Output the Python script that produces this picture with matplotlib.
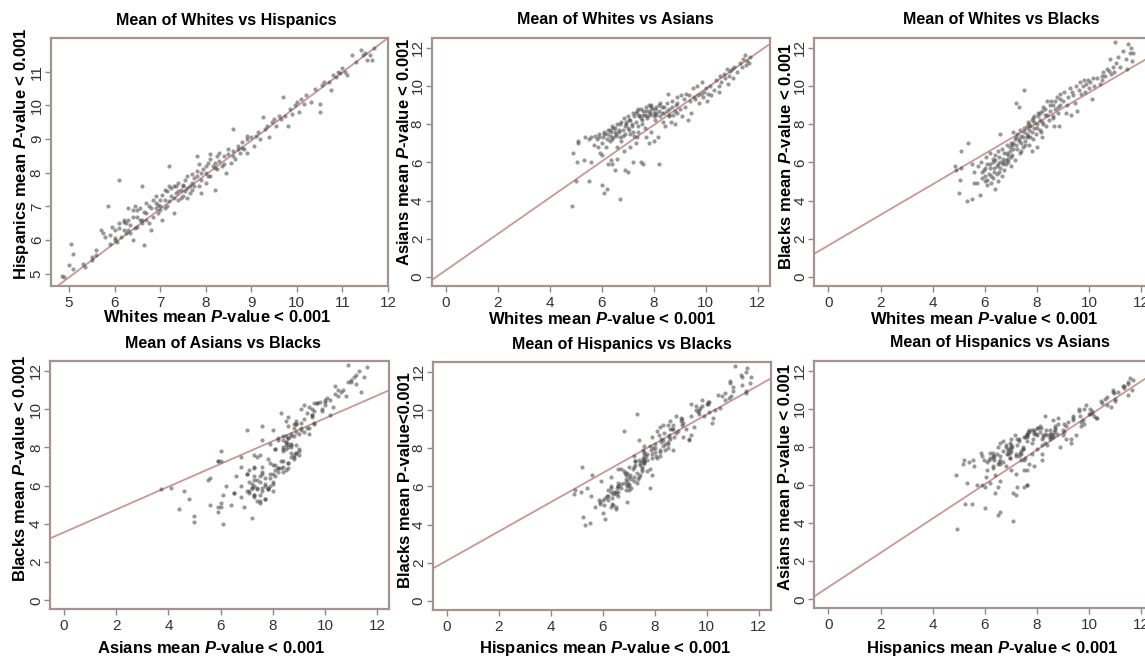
import numpy as np
import matplotlib
matplotlib.use('Agg')
import matplotlib.pyplot as plt

plt.rcParams['font.family'] = 'Liberation Sans'
plt.rcParams['mathtext.fontset'] = 'custom'
plt.rcParams['mathtext.it'] = 'Liberation Sans:bold:italic'
plt.rcParams['mathtext.rm'] = 'Liberation Sans:bold'

# mean expression per probe, by group
whites = [4.85, 4.9, 5.0, 5.05, 5.1, 5.1, 5.3, 5.35, 5.5, 5.5, 5.6, 5.6,
          5.7, 5.75, 5.8, 5.85, 5.9, 5.95, 6.0, 6.0, 6.05, 6.1, 6.1, 6.15, 6.2, 6.2, 6.25, 6.3, 6.3, 6.35,
          6.4, 6.4, 6.45, 6.5, 6.5, 6.55, 6.6, 6.6, 6.65, 6.7, 6.7, 6.75, 6.8, 6.85, 6.9, 6.9, 6.95, 7.0, 7.0,
          7.05, 7.1, 7.1, 7.15, 7.2, 7.2, 7.25, 7.3, 7.3, 7.35, 7.4, 7.4, 7.45, 7.5, 7.5, 7.55, 7.6, 7.6, 7.65,
          7.7, 7.7, 7.75, 7.8, 7.8, 7.85, 7.9, 7.9, 7.95, 8.0, 8.0, 8.05, 8.1, 8.1, 8.15, 8.2, 8.2, 8.25, 8.3,
          8.35, 8.4, 8.45, 8.5, 8.55, 8.6, 8.6, 8.65, 8.7, 8.75, 8.8, 8.85, 8.9, 8.9, 9.0,
          9.05, 9.1, 9.15, 9.2, 9.25, 9.3, 9.35, 9.4, 9.45, 9.5, 9.55, 9.6, 9.65, 9.7, 9.75, 9.8, 9.85, 9.9, 9.95,
          10.0, 10.05, 10.1, 10.15, 10.2, 10.3, 10.4, 10.5, 10.5, 10.55, 10.6, 10.7, 10.75, 10.8, 10.85, 10.9, 10.95,
          11.0, 11.05, 11.1, 11.2, 11.3, 11.4, 11.45, 11.5, 11.55, 11.6, 11.65, 11.7,
          5.9, 6.0, 6.1, 6.2, 6.25, 6.3, 6.35, 6.4, 6.45, 6.5, 6.55, 6.6, 6.65, 6.7, 6.75, 6.8, 6.85,
          6.9, 6.95, 7.0, 7.05, 7.1, 7.15, 7.2, 7.25, 7.3, 7.35, 7.4, 7.45, 7.5, 7.55, 7.6, 7.65,
          7.7, 7.75, 7.8, 7.85, 7.9, 8.0, 8.05, 8.1, 8.2, 8.25, 8.3, 8.4, 8.5, 8.6, 8.7, 8.8, 8.9]
hispanics = [4.95, 4.9, 5.25, 5.9, 5.15, 5.6, 5.3, 5.2, 5.5, 5.4, 5.55, 5.7,
             6.3, 6.2, 6.1, 7.0, 5.9, 6.4, 6.05, 6.0, 5.95, 7.8, 6.5, 6.1, 6.6, 6.3, 6.5, 6.3, 6.95, 6.2,
             6.7, 6.0, 7.0, 6.4, 6.9, 6.6, 7.6, 6.6, 5.85, 7.1, 6.8, 6.5, 6.3, 7.2, 6.95, 7.1, 6.8, 6.9, 7.2,
             6.6, 7.2, 7.5, 7.0, 8.2, 7.6, 7.3, 6.8, 7.6, 7.4, 7.7, 7.2, 7.5, 7.3, 7.6, 7.45, 7.9, 7.25, 7.6,
             7.7, 7.5, 7.85, 8.5, 7.9, 7.6, 8.0, 7.4, 8.1, 8.0, 7.7, 8.3, 7.9, 8.55, 8.2, 7.5, 8.3, 8.1, 8.6,
             8.2, 8.5, 8.0, 8.55, 8.3, 9.3, 8.65, 8.4, 8.8, 8.6, 8.9, 8.7, 9.0, 8.6, 9.05,
             8.8, 9.1, 9.2, 9.0, 9.65, 9.3, 9.4, 9.05, 9.5, 9.6, 9.4, 9.7, 9.6, 10.25, 9.7, 9.4, 9.9, 9.75, 10.0,
             10.1, 9.8, 10.2, 10.05, 10.3, 10.1, 10.5, 9.8, 10.05, 10.6, 10.7, 10.7, 10.45, 10.9, 10.85, 11.0, 10.95,
             11.1, 11.0, 10.9, 11.5, 11.3, 11.65, 11.5, 11.55, 11.35, 11.5, 11.35, 11.7,
             6.15, 6.3, 6.35, 6.55, 6.2, 6.6, 6.45, 6.9, 6.35, 6.7, 6.95, 6.5, 6.85, 6.6, 7.0, 6.95, 6.7,
             7.3, 7.05, 7.0, 7.35, 6.95, 7.45, 7.15, 7.55, 7.25, 7.6, 7.45, 7.25, 7.65, 7.8, 7.55, 7.4,
             7.95, 7.6, 8.05, 8.25, 7.8, 8.2, 7.9, 8.4, 8.15, 8.5, 8.35, 8.25, 8.7, 8.5, 8.7, 8.75, 9.1]
asians = [3.7, 6.5, 5.0, 6.0, 7.1, 7.0, 6.1, 7.3, 5.0, 7.2, 7.3, 6.0,
          6.9, 7.4, 7.2, 6.8, 7.5, 6.5, 6.4, 4.8, 7.3, 7.6, 4.4, 6.8, 4.6, 7.5, 5.9, 7.7, 7.4, 6.1,
          7.2, 5.9, 7.8, 5.6, 7.6, 7.5, 6.8, 6.2, 7.7, 4.1, 8.0, 7.1, 7.4, 6.6, 7.9, 5.6, 8.1, 7.8, 5.5,
          8.2, 7.5, 6.8, 8.0, 7.6, 6.0, 8.4, 7.0, 8.6, 7.3, 8.8, 7.6, 8.5, 8.3, 6.0, 8.0, 8.7, 5.9, 8.5,
          8.9, 7.3, 8.4, 8.7, 7.0, 8.6, 9.0, 7.6, 8.8, 8.6, 7.1, 8.2, 8.9, 8.5, 7.3, 5.9, 8.7, 9.1, 8.6,
          8.1, 8.9, 7.9, 8.7, 9.6, 8.4, 8.8, 8.1, 9.2, 8.5, 8.0, 9.0, 8.6, 9.4, 8.8,
          9.5, 8.4, 9.3, 8.9, 9.6, 8.2, 9.5, 9.2, 8.6, 9.9, 9.4, 9.3, 10.0, 9.5, 9.1, 9.6, 10.2, 9.4, 9.7,
          9.9, 9.2, 9.6, 10.0, 9.5, 9.8, 10.3, 10.0, 9.7, 10.5, 10.2, 10.6, 10.4, 10.9, 10.1, 10.5, 10.8,
          10.9, 10.4, 11.0, 10.7, 11.2, 11.0, 11.4, 11.6, 11.1, 11.3, 11.2, 11.5,
          7.3, 7.0, 7.5, 7.2, 7.7, 7.1, 7.6, 7.9, 7.3, 7.8, 7.4, 8.0, 7.6, 7.3, 8.1, 7.7, 8.3,
          7.5, 8.0, 8.4, 7.7, 8.2, 7.9, 8.6, 7.4, 8.1, 8.7, 7.9, 8.4, 8.8, 8.2, 8.5, 7.8,
          8.7, 8.3, 9.0, 8.5, 8.9, 8.4, 8.8, 8.6, 9.0, 8.4, 8.9, 8.6, 9.1, 8.5, 8.9, 8.7, 9.1]
blacks = [5.8, 5.6, 4.4, 5.1, 5.7, 6.6, 4.0, 7.0, 4.1, 5.9, 5.5, 4.9,
          4.9, 5.8, 4.3, 6.0, 5.2, 5.6, 5.0, 5.3, 6.3, 5.9, 4.8, 5.4, 5.7, 6.5, 4.9, 6.0, 5.2, 5.5,
          6.1, 4.6, 5.8, 5.0, 6.6, 5.5, 7.5, 6.0, 5.3, 5.9, 6.2, 5.6, 5.9, 6.5, 6.0, 6.4, 6.8, 5.8, 6.3,
          6.9, 7.6, 7.0, 6.1, 9.1, 7.3, 6.7, 8.9, 7.2, 6.5, 7.4, 7.0, 6.8, 9.8, 7.8, 7.1, 7.5, 7.3, 8.1,
          7.7, 6.9, 7.9, 8.2, 6.6, 7.2, 7.8, 8.4, 7.5, 8.0, 6.8, 8.4, 7.7, 8.6, 7.6, 7.3, 8.1, 8.9, 8.5,
          7.9, 9.2, 8.2, 8.7, 9.2, 8.4, 9.0, 7.9, 8.8, 9.4, 8.9, 7.9, 9.6, 9.0, 9.2,
          9.7, 8.6, 9.0, 9.4, 9.9, 8.5, 9.7, 9.5, 9.1, 10.0, 8.7, 9.8, 10.2, 9.6, 10.0, 10.3, 9.7, 10.1, 10.3,
          9.9, 10.2, 9.3, 10.4, 10.0, 10.4, 10.1, 10.5, 10.3, 10.7, 10.5, 10.9, 10.8, 11.4, 10.6, 11.0, 10.7,
          12.3, 11.2, 11.5, 11.0, 11.8, 11.4, 10.9, 12.2, 11.7, 12.0, 11.3, 11.7,
          5.5, 5.7, 5.1, 5.9, 5.3, 6.2, 5.7, 6.4, 5.4, 5.9, 6.3, 5.7, 6.7, 6.0, 6.5, 6.1, 6.9,
          6.2, 6.6, 7.0, 6.4, 6.7, 7.2, 6.9, 7.5, 7.1, 7.7, 6.6, 7.3, 7.6, 6.9, 7.9, 7.4,
          8.0, 7.3, 7.6, 8.3, 8.1, 7.8, 8.6, 8.2, 8.7, 8.0, 8.8, 8.5, 9.0, 8.3, 9.2, 8.6, 9.3]

groups = {'Whites': whites, 'Hispanics': hispanics, 'Asians': asians, 'Blacks': blacks}

# panels: (x group, y group), fitted line
pairs = [('Whites', 'Hispanics'), ('Whites', 'Asians'), ('Whites', 'Blacks'),
         ('Asians', 'Blacks'), ('Hispanics', 'Blacks'), ('Hispanics', 'Asians')]
fit_slope = [1.015, 0.95, 0.80, 0.596, 0.765, 0.90]
fit_intercept = [-0.18, 0.35, 1.65, 3.56, 2.11, 0.64]
italic_p_y = [True, True, True, True, False, False]

W, H = 1145, 657
fig = plt.figure(figsize=(W / 100, H / 100), dpi=100)

# axes boxes in pixels: left, top, right, bottom
boxes = [(50.7, 38, 388, 286), (431.7, 37.7, 770, 286), (814.3, 37.7, 1153.5, 286),
         (50, 361, 389.3, 609.3), (432.7, 361.7, 771, 610), (814.3, 360.7, 1153.5, 608.3)]
title_pos = [(226, 20), (615.5, 20), (1001.7, 20), (223, 344), (621.7, 345), (999.7, 343)]
xlab_pos = [(217, 317), (601.7, 319), (984, 319), (211, 648), (604.7, 648), (992.5, 648)]
ylab_pos = [(21.5, 154), (404, 152), (786, 156.7), (20, 468), (406, 480), (785, 477)]

frame_col = '#a39391'
line_col = '#c99893'
pt_col = '#454545'

for i, (xg, yg) in enumerate(pairs):
    l, t, r, b = boxes[i]
    ax = fig.add_axes([l / W, 1 - b / H, (r - l) / W, (b - t) / H])
    x = np.array(groups[xg])
    y = np.array(groups[yg])
    ax.scatter(x, y, s=9, color=pt_col, alpha=0.55, linewidths=0, zorder=3)
    if i == 0:
        ax.set_xlim(4.6, 12.0)
        ax.set_ylim(4.64, 12.0)
        ax.set_xticks(range(5, 13))
        ax.set_yticks(range(5, 12))
    else:
        ax.set_xlim(-0.54, 12.47)
        ax.set_ylim(-0.47, 12.52)
        ax.set_xticks(range(0, 13, 2))
        ax.set_yticks(range(0, 13, 2))
    xs = np.array(ax.get_xlim())
    ax.plot(xs, fit_intercept[i] + fit_slope[i] * xs, color=line_col, lw=1.3, zorder=2)

    for sp in ax.spines.values():
        sp.set_color(frame_col)
        sp.set_linewidth(1.6)
    ax.tick_params(length=4, width=1, color='#8a8a8a', labelsize=11, labelcolor='#333333')
    ax.tick_params(axis='y', pad=1)
    ax.tick_params(axis='x', pad=3)
    for lab in ax.get_yticklabels():
        lab.set_rotation(90)
        lab.set_va('center')

    fig.text(title_pos[i][0] / W, 1 - title_pos[i][1] / H, f'Mean of {xg} vs {yg}',
             ha='center', va='center', fontsize=11.5, fontweight='bold')
    fig.text(xlab_pos[i][0] / W, 1 - xlab_pos[i][1] / H, f'{xg} mean $\\mathit{{P}}$-value < 0.001',
             ha='center', va='center', fontsize=12, fontweight='bold')
    if italic_p_y[i]:
        ylab = f'{yg} mean $\\mathit{{P}}$-value < 0.001'
    elif i == 4:
        ylab = f'{yg} mean P-value<0.001'
    else:
        ylab = f'{yg} mean P-value < 0.001'
    fig.text(ylab_pos[i][0] / W, 1 - ylab_pos[i][1] / H, ylab, rotation=90,
             ha='center', va='center', fontsize=12, fontweight='bold')

fig.savefig('out.png', dpi=100)
